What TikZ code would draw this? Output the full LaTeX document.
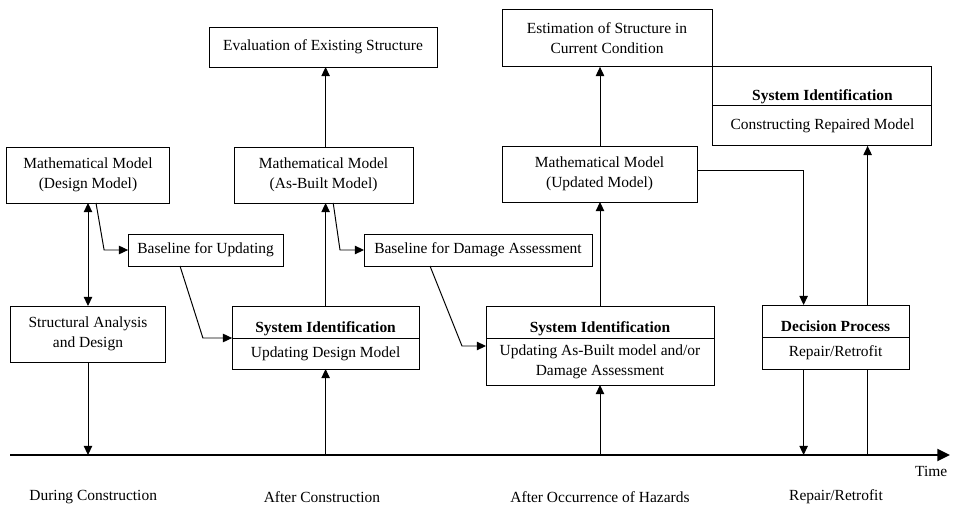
\documentclass[tikz,border=0pt]{standalone}
\usepackage{fontspec}
\setmainfont{Liberation Serif}
\usetikzlibrary{arrows.meta,positioning}

\begin{document}
\begin{tikzpicture}[
    every node/.style = {font=\fontsize{11}{14}\selectfont},
    box/.style      = {draw, line width=0.7pt, align=center,
      inner sep=0pt, outer sep=0pt},
    title/.style    = {box, font=\fontsize{11}{14}\selectfont\bfseries,
      text height=0.5cm, text depth=0pt},
    >={Triangle[length=6.5pt,width=6pt]},
    flow/.style     = {line width=0.7pt, ->},
    timeline/.style = {line width=1.5pt, -{Triangle[length=9pt,width=8.5pt]}},
  ]
  \useasboundingbox (0,0) rectangle (23.875,-12.65);

  \node[box, minimum width=4.075cm, minimum height=1.4cm] (design) at (2.2,-4.375)
    {Mathematical Model\\(Design Model)};
  \node[box, minimum width=3.875cm, minimum height=0.8cm] (baseupd) at (5.14,-6.25)
    {Baseline for Updating};
  \node[box, minimum width=3.875cm, minimum height=1.4cm] (analysis) at (2.2,-8.35)
    {Structural Analysis\\and Design};
  \node[title, minimum width=4.675cm, minimum height=0.8cm] (sysid1) at (8.14,-8.05)
    {System Identification};
  \node[box, minimum width=4.675cm, minimum height=0.775cm, below=0pt of sysid1] (updesign)
    {Updating Design Model};
  \node[box, minimum width=4.475cm, minimum height=1.4cm] (asbuilt) at (8.09,-4.375)
    {Mathematical Model\\(As-Built Model)};
  \node[box, minimum width=5.7cm, minimum height=1cm] (evaluation) at (8.075,-1.175)
    {Evaluation of Existing Structure};
  \node[box, minimum width=5.7cm, minimum height=0.8cm] (basedmg) at (11.95,-6.25)
    {Baseline for Damage Assessment};
  \node[title, minimum width=5.7cm, minimum height=0.8cm] (sysid2) at (15,-8.05)
    {System Identification};
  \node[box, minimum width=5.7cm, minimum height=1.175cm, below=0pt of sysid2] (updamage)
    {Updating As-Built model and/or\\Damage Assessment};
  \node[box, minimum width=4.875cm, minimum height=1.4cm] (updated) at (14.99,-4.35)
    {Mathematical Model\\(Updated Model)};
  \node[box, minimum width=5.25cm, minimum height=1.425cm] (estimation) at (15.175,-0.96)
    {Estimation of Structure in\\Current Condition};
  \node[title, minimum width=3.675cm, minimum height=0.8cm] (decision) at (20.89,-8.025)
    {Decision Process};
  \node[box, minimum width=3.675cm, minimum height=0.8cm, below=0pt of decision] (repair)
    {Repair/Retrofit};
  \node[title, minimum width=5.475cm, minimum height=0.975cm, text height=0.72cm] (sysid3)
    at (20.56,-2.16) {System Identification};
  \node[box, minimum width=5.475cm, minimum height=1cm, below=0pt of sysid3] (repaired)
    {Constructing Repaired Model};

  \coordinate (t0) at (0.25,-11.375);
  \coordinate (t1) at (23.75,-11.375);
  \draw[timeline] (t0) -- (t1);
  \node (timelbl) at (23.28,-11.78) {Time};
  \node (during) at (2.33,-12.425) {During Construction};
  \node (after) at (8.05,-12.425) {After Construction};
  \node (hazards) at (15,-12.425) {After Occurrence of Hazards};
  \node (retrofit) at (20.9,-12.425) {Repair/Retrofit};

  \draw[flow,<->] (design.south) -- (analysis.north);
  \draw[flow] (analysis.south) -- (analysis.south |- t0);
  \draw[flow] ([xshift=0.2cm]design.south) -- ([xshift=-0.6cm]baseupd.west) -- (baseupd.west);
  \draw[flow] ([xshift=-0.64cm]baseupd.south) -- ([xshift=-0.73cm]sysid1.south west)
    -- (sysid1.south west);
  \draw[flow] (updesign.south |- t0) -- (updesign.south);
  \draw[flow] (sysid1.north) -- (sysid1.north |- asbuilt.south);
  \draw[flow] (sysid1.north |- asbuilt.north) -- (sysid1.north |- evaluation.south);
  \draw[flow] ([xshift=0.24cm]asbuilt.south) -- ([xshift=-0.6cm]basedmg.west) -- (basedmg.west);
  \draw[flow] ([xshift=-1.2cm]basedmg.south) -- ([xshift=-0.6cm,yshift=-0.2cm]sysid2.south west)
    -- ([yshift=-0.2cm]sysid2.south west);
  \draw[flow] (updamage.south |- t0) -- (updamage.south);
  \draw[flow] (sysid2.north) -- (sysid2.north |- updated.south);
  \draw[flow] (sysid2.north |- updated.north) -- (sysid2.north |- estimation.south);
  \coordinate (decin) at ([xshift=-0.8cm]decision.north);
  \draw[flow] ([yshift=0.1cm]updated.east) -| (decin);
  \draw[flow] ([xshift=-0.8cm]repair.south) -- ([xshift=-0.8cm]repair.south |- t0);
  \draw[line width=0.7pt] ([xshift=0.8cm]repair.south |- t0) -- ([xshift=0.8cm]repair.south);
  \draw[flow] ([xshift=0.8cm]decision.north) -- ([xshift=0.8cm]decision.north |- repaired.south);
\end{tikzpicture}
\end{document}
